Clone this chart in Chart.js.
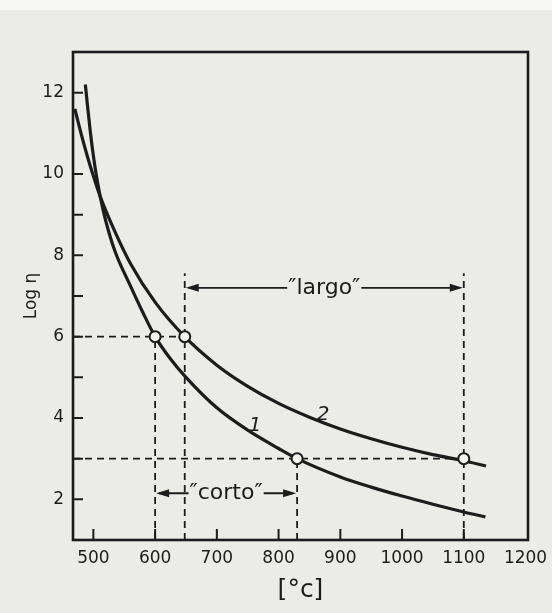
<!DOCTYPE html>
<html>
<head>
<meta charset="utf-8">
<script src="https://cdn.jsdelivr.net/npm/chart.js@4.4.1/dist/chart.umd.min.js"></script>
<style>
  html, body { margin: 0; padding: 0; background: #ebebe8; }
  canvas { display: block; }
</style>
</head>
<body>
<canvas id="c" width="552" height="613"></canvas>
<script>
// ---- data ----
const xRange = [467, 1204];          // temperature axis [°C]
const yRange = [1, 13];              // Log η axis
const xTickLabels = [500, 600, 700, 800, 900, 1000, 1100, 1200];
const xMinorTicks = [500, 600, 700, 800, 900, 1000, 1100];
const yTickLabels = [2, 4, 6, 8, 10, 12];
const yMinorTicks = [2, 3, 4, 5, 6, 7, 8, 9, 10, 12];

// curve 1 ("short" glass)
const curve1T      = [487, 490, 495, 500, 505, 511, 520, 535, 560, 580, 600, 625, 650, 700, 750, 800, 830, 900, 950, 1000, 1050, 1100, 1135];
const curve1LogEta = [12.2, 11.75, 11.05, 10.45, 9.95, 9.45, 8.85, 8.1, 7.25, 6.6, 6.0, 5.45, 5.0, 4.25, 3.7, 3.25, 3.0, 2.55, 2.3, 2.08, 1.88, 1.69, 1.57];
// curve 2 ("long" glass)
const curve2T      = [470, 480, 490, 500, 511, 530, 560, 600, 648, 700, 750, 800, 850, 900, 950, 1000, 1050, 1100, 1136];
const curve2LogEta = [11.6, 11.0, 10.45, 9.95, 9.45, 8.75, 7.8, 6.85, 6.0, 5.3, 4.78, 4.36, 4.02, 3.73, 3.49, 3.28, 3.1, 2.95, 2.82];

// marked points (open circles)
const markerT      = [600, 648, 830, 1100];
const markerLogEta = [6, 6, 3, 3];

// dashed guide lines
const guideLevels  = [6, 3];            // horizontal guides at these Log η
const guideLevelEnds = [648, 1100];     // ...running from the axis to these T
const guideVerticalT   = [600, 648, 830, 1100];
const guideVerticalTop = [6, 7.56, 3, 7.56];

// working ranges
const rangeNames  = ['\u2033largo\u2033', '\u2033corto\u2033'];
const rangeStart  = [648, 600];
const rangeEnd    = [1100, 830];
const rangeLevel  = [7.2, 2.15];

// curve labels
const curveLabelText = ['1', '2'];
const curveLabelT    = [762, 872];
const curveLabelY    = [3.8, 4.07];

const INK = '#1c1c1c';
const PAPER = '#ebebe8';

// ---- build datasets ----
const datasets = [];
datasets.push({
  label: 'markers',
  data: markerT.map((t, i) => ({x: t, y: markerLogEta[i]})),
  showLine: false,
  pointRadius: 5.5,
  pointBackgroundColor: '#f4f4f2',
  pointBorderColor: INK,
  pointBorderWidth: 2,
});
datasets.push({
  label: '1',
  data: curve1T.map((t, i) => ({x: t, y: curve1LogEta[i]})),
  borderColor: INK, borderWidth: 3.2, pointRadius: 0,
  cubicInterpolationMode: 'monotone', fill: false,
});
datasets.push({
  label: '2',
  data: curve2T.map((t, i) => ({x: t, y: curve2LogEta[i]})),
  borderColor: INK, borderWidth: 3.2, pointRadius: 0,
  cubicInterpolationMode: 'monotone', fill: false,
});
guideLevels.forEach((lv, i) => {
  datasets.push({
    label: 'h' + i,
    data: [{x: xRange[0], y: lv}, {x: guideLevelEnds[i], y: lv}],
    borderColor: INK, borderWidth: 1.8, borderDash: [7, 5], pointRadius: 0,
  });
});
guideVerticalT.forEach((t, i) => {
  datasets.push({
    label: 'v' + i,
    data: [{x: t, y: yRange[0]}, {x: t, y: guideVerticalTop[i]}],
    borderColor: INK, borderWidth: 1.8, borderDash: [7, 5], pointRadius: 0,
  });
});

// ---- plugins ----
const paperPlugin = {
  id: 'paper',
  beforeDraw(chart) {
    const ctx = chart.ctx;
    ctx.save();
    ctx.fillStyle = PAPER;
    ctx.fillRect(0, 0, chart.width, chart.height);
    ctx.fillStyle = '#f7f7f5';
    ctx.fillRect(0, 0, chart.width, 10);
    ctx.restore();
  }
};

const framePlugin = {
  id: 'frame',
  afterDatasetsDraw(chart) {
    const {ctx, chartArea: a, scales: {x, y}} = chart;
    ctx.save();
    ctx.strokeStyle = INK;
    ctx.lineWidth = 2.6;
    ctx.strokeRect(a.left, a.top, a.right - a.left, a.bottom - a.top);
    ctx.lineWidth = 2;
    ctx.beginPath();
    yMinorTicks.forEach(v => {
      const py = y.getPixelForValue(v);
      ctx.moveTo(a.left, py); ctx.lineTo(a.left + 10, py);
    });
    xMinorTicks.forEach(v => {
      const px = x.getPixelForValue(v);
      ctx.moveTo(px, a.bottom); ctx.lineTo(px, a.bottom - 11);
    });
    ctx.stroke();

    // range arrows
    ctx.font = '22px "DejaVu Sans"';
    ctx.textAlign = 'center';
    ctx.textBaseline = 'middle';
    ctx.fillStyle = INK;
    ctx.lineWidth = 1.8;
    rangeNames.forEach((name, i) => {
      const x1 = x.getPixelForValue(rangeStart[i]);
      const x2 = x.getPixelForValue(rangeEnd[i]);
      const py = y.getPixelForValue(rangeLevel[i]);
      const cx = (x1 + x2) / 2;
      const w = ctx.measureText(name).width;
      ctx.fillText(name, cx, py);
      ctx.beginPath();
      ctx.moveTo(x1 + 4, py); ctx.lineTo(cx - w / 2 - 1, py);
      ctx.moveTo(cx + w / 2 + 1, py); ctx.lineTo(x2 - 4, py);
      ctx.stroke();
      // arrow heads
      ctx.beginPath();
      ctx.moveTo(x1 + 1, py); ctx.lineTo(x1 + 14, py - 4); ctx.lineTo(x1 + 14, py + 4); ctx.closePath();
      ctx.moveTo(x2 - 1, py); ctx.lineTo(x2 - 14, py - 4); ctx.lineTo(x2 - 14, py + 4); ctx.closePath();
      ctx.fill();
    });

    // curve labels
    ctx.font = 'italic 20px "DejaVu Sans"';
    curveLabelText.forEach((t, i) => {
      ctx.fillText(t, x.getPixelForValue(curveLabelT[i]), y.getPixelForValue(curveLabelY[i]));
    });
    ctx.restore();
  }
};

new Chart(document.getElementById('c'), {
  type: 'line',
  data: { datasets },
  options: {
    responsive: false,
    animation: false,
    layout: { padding: { left: 0, top: 52, right: 24, bottom: 0 } },
    plugins: { legend: { display: false }, tooltip: { enabled: false } },
    scales: {
      x: {
        type: 'linear',
        min: xRange[0], max: xRange[1],
        grid: { display: false, drawTicks: false },
        border: { display: false },
        afterBuildTicks: s => { s.ticks = xTickLabels.map(v => ({value: v})); },
        afterFit: s => { s.height = 73; s.paddingRight = 0; s.paddingLeft = 0; },
        ticks: { color: INK, padding: 8, maxRotation: 0, autoSkip: false,
                 callback: v => String(v),
                 font: { family: '"DejaVu Sans"', size: 17 } },
        title: { display: true, text: '[°c]', color: INK,
                 font: { family: '"DejaVu Sans"', size: 25 },
                 padding: { top: 0, bottom: 8 } },
      },
      y: {
        type: 'linear',
        min: yRange[0], max: yRange[1],
        grid: { display: false, drawTicks: false },
        border: { display: false },
        afterBuildTicks: s => { s.ticks = yTickLabels.map(v => ({value: v})); },
        afterFit: s => { s.width = 73; s.paddingTop = 0; s.paddingBottom = 0; },
        ticks: { color: INK, padding: 9, autoSkip: false,
                 callback: v => String(v),
                 font: { family: '"DejaVu Sans"', size: 17 } },
        title: { display: true, text: 'Log η', color: INK,
                 font: { family: '"DejaVu Sans"', size: 17 },
                 padding: { top: 21, bottom: 0 } },
      }
    }
  },
  plugins: [paperPlugin, framePlugin]
});
</script>
</body>
</html>
